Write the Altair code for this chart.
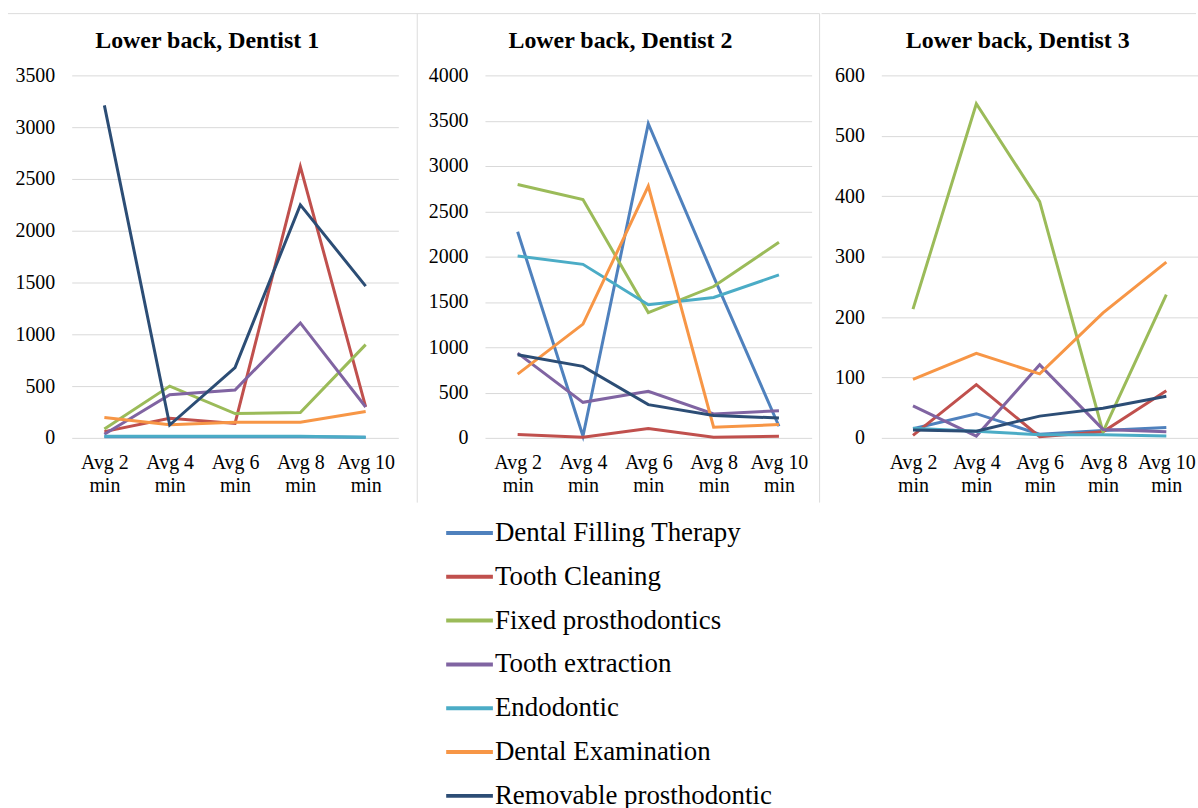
import altair as alt
import pandas as pd

cats = ["Avg 2 min", "Avg 4 min", "Avg 6 min", "Avg 8 min", "Avg 10 min"]
series = ["Dental Filling Therapy", "Tooth Cleaning", "Fixed prosthodontics",
          "Tooth extraction", "Endodontic", "Dental Examination",
          "Removable prosthodontic"]
colors = ["#4F81BD", "#C0504D", "#9BBB59", "#8064A2", "#4BACC6", "#F79646", "#2C4D75"]

# Dentist 1
d1_filling = [10, 10, 10, 10, 5]
d1_cleaning = [60, 190, 140, 2620, 300]
d1_fixed = [86, 500, 235, 245, 900]
d1_extraction = [35, 417, 462, 1110, 298]
d1_endo = [15, 15, 15, 15, 7]
d1_exam = [197, 127, 150, 150, 254]
d1_removable = [3210, 124, 678, 2250, 1465]

# Dentist 2
d2_filling = [2275, 20, 3468, 1780, 128]
d2_cleaning = [37, 7, 103, 7, 18]
d2_fixed = [2796, 2631, 1383, 1670, 2158]
d2_extraction = [935, 392, 514, 264, 300]
d2_endo = [2007, 1915, 1468, 1549, 1798]
d2_exam = [704, 1255, 2778, 117, 147]
d2_removable = [917, 789, 367, 246, 220]

# Dentist 3
d3_filling = [15, 40, 6, 12, 17]
d3_cleaning = [4, 88, 2, 10, 78]
d3_fixed = [213, 553, 391, 10, 237]
d3_extraction = [53, 3, 121, 14, 10]
d3_endo = [16, 11, 5, 5, 3]
d3_exam = [97, 140, 106, 207, 291]
d3_removable = [13, 11, 36, 49, 69]

titles = ["Lower back,  Dentist 1", "Lower back,  Dentist 2", "Lower back,  Dentist 3"]
y_max = [3500, 4000, 600]
y_step = [500, 500, 100]

panels_data = [
    [d1_filling, d1_cleaning, d1_fixed, d1_extraction, d1_endo, d1_exam, d1_removable],
    [d2_filling, d2_cleaning, d2_fixed, d2_extraction, d2_endo, d2_exam, d2_removable],
    [d3_filling, d3_cleaning, d3_fixed, d3_extraction, d3_endo, d3_exam, d3_removable],
]

FONT = "Liberation Serif"
BORDER = "#DCDCDC"
one = pd.DataFrame({"k": [0]})


def make_df(vals):
    rows = []
    for s, v in zip(series, vals):
        for c, x in zip(cats, v):
            rows.append({"time": c, "series": s, "value": x})
    return pd.DataFrame(rows)


def hrule(x1, x2, y):
    return alt.Chart(one).mark_rule(color=BORDER, strokeWidth=1).encode(
        x=alt.value(x1), x2=alt.value(x2), y=alt.value(y))


def vrule(x, y1, y2):
    return alt.Chart(one).mark_rule(color=BORDER, strokeWidth=1).encode(
        x=alt.value(x), y=alt.value(y1), y2=alt.value(y2))


def panel(i, width, title_x, extras):
    df = make_df(panels_data[i])
    lines = alt.Chart(df).mark_line(strokeWidth=3).encode(
        x=alt.X("time:N", sort=cats, title=None,
                axis=alt.Axis(labelAngle=0, labelFontSize=20, labelFont=FONT,
                              labelColor="#000000", labelPadding=15,
                              labelLineHeight=23, labelBaseline="top",
                              domain=False, ticks=False, grid=False,
                              labelExpr="[replace(datum.label, ' min', ''), 'min']")),
        y=alt.Y("value:Q", title=None,
                scale=alt.Scale(domain=[0, y_max[i]], nice=False),
                axis=alt.Axis(values=list(range(0, y_max[i] + 1, y_step[i])),
                              format="d",
                              labelFontSize=20, labelFont=FONT, labelColor="#000000",
                              labelPadding=17, domain=False, ticks=False,
                              gridColor="#D9D9D9", gridWidth=1)),
        color=alt.Color("series:N", sort=series,
                        scale=alt.Scale(domain=series, range=colors),
                        legend=alt.Legend(title=None)),
    )
    ttl = alt.Chart(pd.DataFrame({"title": [titles[i]]})).mark_text(
        font=FONT, fontSize=24, fontWeight="bold", color="#000000",
        align="center", baseline="alphabetic").encode(
        x=alt.value(title_x), y=alt.value(-27), text="title:N")
    return alt.layer(*extras, lines, ttl).properties(width=width, height=364)


# borders (pixel offsets relative to each plot area)
p1_extras = [hrule(-64, 751, -62), vrule(347, -62, 429), vrule(751, -62, 429)]
p3_extras = [hrule(-60, 316, -62)]

p1 = panel(0, 328, 136, p1_extras)
p2 = panel(1, 328, 136, [])
p3 = panel(2, 318, 137, p3_extras)

left = alt.hconcat(p1, p2, spacing=87, bounds="flush")
chart = alt.hconcat(left, p3, spacing=0).properties(
    padding={"left": 7, "top": 11, "right": 0, "bottom": 0},
).configure_view(stroke=None).configure_legend(
    orient="none", legendX=374, legendY=434,
    symbolType="stroke", symbolSize=2200, symbolStrokeWidth=4,
    labelFont=FONT, labelFontSize=27, labelColor="#000000",
    labelOffset=0, rowPadding=5, labelLimit=400,
)

chart.save("out.html", embed_options={"renderer": "svg", "actions": False})
